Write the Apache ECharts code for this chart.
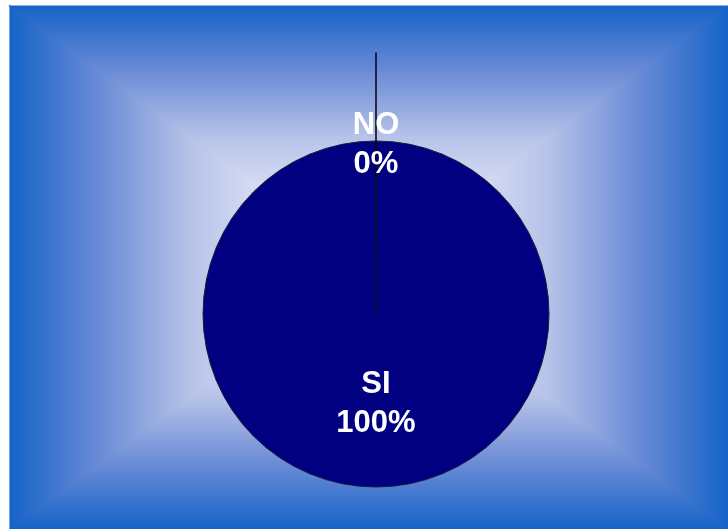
<!DOCTYPE html>
<html>
<head>
<meta charset="utf-8">
<script src="https://cdn.jsdelivr.net/npm/echarts@6/dist/echarts.min.js"></script>
<style>
html,body{margin:0;padding:0;background:#ffffff;}
#chart{width:728px;height:529px;}
</style>
</head>
<body>
<div id="chart"></div>
<script>
// ---- data ----
const categories = ['SI', 'NO'];
const values = [100, 0];

// ---- styles ----
const edgeBlue = '#1463c8';
const gradStops = [
  { offset: 0, color: edgeBlue },
  { offset: 0.25, color: '#6a8bd6' },
  { offset: 0.5, color: '#b6c2e8' },
  { offset: 0.75, color: '#e0e5f5' },
  { offset: 1, color: '#f3f4fb' }
];
function lg(x, y, x2, y2) {
  return new echarts.graphic.LinearGradient(x, y, x2, y2, gradStops);
}
const X0 = 10, X1 = 728, Y0 = 6, Y1 = 529;
const CX = (X0 + X1) / 2, CY = (Y0 + Y1) / 2;

const chart = echarts.init(document.getElementById('chart'), null, { renderer: 'canvas' });

const pieData = categories.map((c, i) => ({ name: c, value: values[i] }));

const labelStyle = {
  color: '#ffffff',
  fontFamily: 'Liberation Sans, Arial, sans-serif',
  fontWeight: 'bold',
  fontSize: 31,
  lineHeight: 39
};

function tri(points, g) {
  return { type: 'polygon', silent: true, z: -9, shape: { points: points },
           style: { fill: g, stroke: g, lineWidth: 1.2 } };
}

chart.setOption({
  backgroundColor: '#ffffff',
  animation: false,
  graphic: [
    tri([[X0, Y0], [X1, Y0], [CX, CY]], lg(0, 0, 0, 1)),
    tri([[X0, Y1], [X1, Y1], [CX, CY]], lg(0, 1, 0, 0)),
    tri([[X0, Y0], [X0, Y1], [CX, CY]], lg(0, 0, 1, 0)),
    tri([[X1, Y0], [X1, Y1], [CX, CY]], lg(1, 0, 0, 0))
  ],
  series: [
    {
      type: 'pie',
      silent: true,
      center: [376, 314],
      radius: [0, 173],
      startAngle: 90,
      clockwise: true,
      avoidLabelOverlap: false,
      minShowLabelAngle: 0,
      emphasis: { disabled: true },
      label: {
        show: true,
        position: 'inside',
        formatter: '{b}\n{d}%',
        ...labelStyle
      },
      labelLine: { show: false },
      data: [
        { name: pieData[0].name, value: pieData[0].value,
          itemStyle: { color: '#000080', borderColor: '#1b1b3a', borderWidth: 1 } },
        { name: pieData[1].name, value: pieData[1].value,
          itemStyle: { color: '#000080', borderColor: '#0a0a20', borderWidth: 1.6 },
          label: { show: false } }
      ]
    },
    {
      type: 'pie',
      silent: true,
      center: [376, 314],
      radius: [72, 261],
      startAngle: 90,
      clockwise: true,
      avoidLabelOverlap: false,
      minShowLabelAngle: 0,
      emphasis: { disabled: true },
      label: {
        show: true,
        position: 'inside',
        formatter: '{b}\n{d}%',
        ...labelStyle
      },
      labelLine: { show: false },
      data: [
        { name: pieData[0].name, value: pieData[0].value,
          itemStyle: { color: 'rgba(0,0,0,0)', borderWidth: 0 },
          label: { show: false } },
        { name: pieData[1].name, value: pieData[1].value,
          itemStyle: { color: 'rgba(0,0,0,0)', borderColor: '#0a0a20', borderWidth: 1.6 } }
      ]
    }
  ]
});
</script>
</body>
</html>
